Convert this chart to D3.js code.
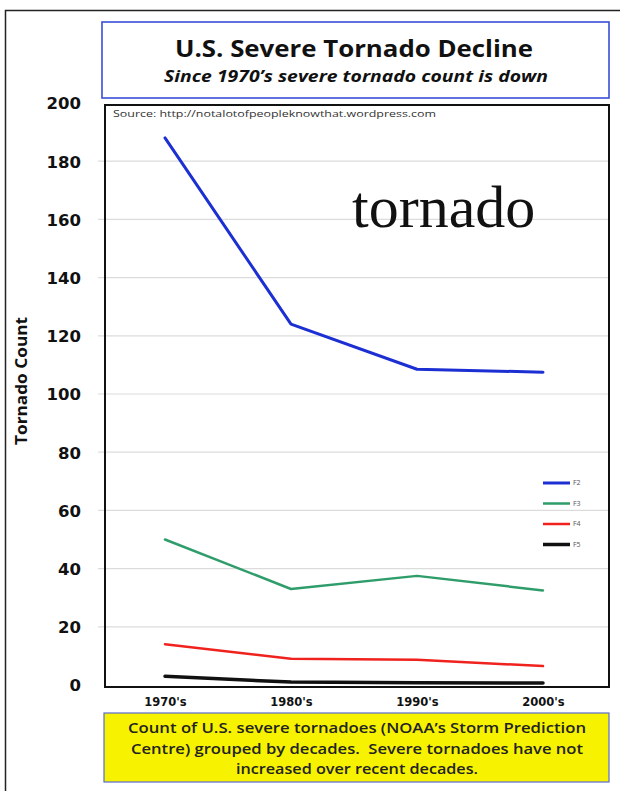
<!DOCTYPE html>
<html>
<head>
<meta charset="utf-8">
<script src="https://cdnjs.cloudflare.com/ajax/libs/d3/7.8.5/d3.min.js"></script>
<style>
  html, body { margin: 0; padding: 0; background: #fff; }
  svg { display: block; }
</style>
</head>
<body>
<svg id="chart" width="620" height="791"></svg>
<script>
// Decades on the x axis
const decades = ["1970's", "1980's", "1990's", "2000's"];
// Severe tornado counts per decade, by Fujita class
const f2 = [188, 124, 108.5, 107.5];
const f3 = [50, 33, 37.5, 32.5];
const f4 = [14, 9, 8.7, 6.5];
const f5 = [3, 1, 0.8, 0.7];
const seriesNames = ["F2", "F3", "F4", "F5"];
const yTicks = [0, 20, 40, 60, 80, 100, 120, 140, 160, 180, 200];

const seriesColors = ["#1c2fd2", "#2f9d6b", "#f0221e", "#111111"];
const seriesWidths = [3, 2.5, 2.5, 3.5];
const seriesData = [f2, f3, f4, f5];

const sans = "'Open Sans', 'DejaVu Sans', sans-serif";
const wide = "'DejaVu Sans', Verdana, sans-serif";
const svg = d3.select("#chart");

// outer frame (left and top edges)
svg.append("path")
  .attr("d", "M5.5,791 V10.5 H620")
  .attr("fill", "none").attr("stroke", "#222").attr("stroke-width", 1.5);

// title box
svg.append("rect")
  .attr("x", 102).attr("y", 22).attr("width", 507).attr("height", 76)
  .attr("fill", "#fff").attr("stroke", "#3a4fd6").attr("stroke-width", 1.6);
svg.append("text")
  .attr("x", 354).attr("y", 57).attr("text-anchor", "middle")
  .attr("textLength", 358).attr("lengthAdjust", "spacingAndGlyphs")
  .style("font-family", sans).style("font-size", "23px").style("font-weight", "bold")
  .attr("fill", "#111").text("U.S. Severe Tornado Decline");
svg.append("text")
  .attr("x", 356).attr("y", 82).attr("text-anchor", "middle")
  .attr("textLength", 384).attr("lengthAdjust", "spacingAndGlyphs")
  .style("font-family", sans).style("font-size", "16.5px").style("font-weight", "bold")
  .style("font-style", "italic").attr("fill", "#111")
  .text("Since 1970\u2019s severe tornado count is down");

// plot geometry
const plot = { left: 105, right: 609, top: 105, bottom: 687 };
const y = d3.scaleLinear().domain([0, 200]).range([685, 103]);
const x = d3.scalePoint().domain(decades).range([165, 543]);

// gridlines with short ticks outside the plot box
svg.append("g").selectAll("line").data(yTicks.filter(t => t > 0 && t < 200)).join("line")
  .attr("x1", plot.left - 7).attr("x2", plot.right)
  .attr("y1", d => y(d)).attr("y2", d => y(d))
  .attr("stroke", "#dcdcdc").attr("stroke-width", 1.2);

// y axis labels
const yAxis = d3.axisLeft(y).tickValues(yTicks).tickSize(0).tickPadding(0);
const yg = svg.append("g").attr("transform", "translate(81,0)").call(yAxis);
yg.select(".domain").remove();
yg.selectAll("text")
  .style("font-family", wide).style("font-size", "16.5px").style("font-weight", "bold")
  .attr("fill", "#111").attr("dy", "0.36em");

svg.append("text")
  .attr("transform", "translate(27,381) rotate(-90)")
  .attr("text-anchor", "middle")
  .attr("textLength", 128).attr("lengthAdjust", "spacingAndGlyphs")
  .style("font-family", sans).style("font-size", "16px").style("font-weight", "bold")
  .attr("fill", "#111").text("Tornado Count");

// x axis labels
const xAxis = d3.axisBottom(x).tickSize(0).tickPadding(0);
const xg = svg.append("g").attr("transform", "translate(0,698)").call(xAxis);
xg.select(".domain").remove();
xg.selectAll("text")
  .style("font-family", wide).style("font-size", "11.5px").style("font-weight", "bold")
  .attr("fill", "#111").attr("dy", "0.71em");

// plot box border
svg.append("rect")
  .attr("x", plot.left).attr("y", plot.top)
  .attr("width", plot.right - plot.left).attr("height", plot.bottom - plot.top)
  .attr("fill", "none").attr("stroke", "#111").attr("stroke-width", 2);

// source note
svg.append("text")
  .attr("x", 113).attr("y", 117)
  .attr("textLength", 323).attr("lengthAdjust", "spacingAndGlyphs")
  .style("font-family", sans).style("font-size", "9.5px")
  .attr("fill", "#333").text("Source: http://notalotofpeopleknowthat.wordpress.com");

// large caption inside the plot
svg.append("text")
  .attr("x", 352).attr("y", 227)
  .style("font-family", "'Liberation Serif', 'DejaVu Serif', serif").style("font-size", "60px")
  .attr("fill", "#111").text("tornado");

// series lines
const line = d3.line().x((d, i) => x(decades[i])).y(d => y(d));
svg.append("g").selectAll("path").data(seriesData).join("path")
  .attr("d", d => line(d))
  .attr("fill", "none")
  .attr("stroke", (d, i) => seriesColors[i])
  .attr("stroke-width", (d, i) => seriesWidths[i])
  .attr("stroke-linejoin", "round").attr("stroke-linecap", "round");

// legend
const lg = svg.append("g");
seriesNames.forEach((name, i) => {
  const ly = 483 + i * 20.5;
  lg.append("line")
    .attr("x1", 543).attr("x2", 570).attr("y1", ly).attr("y2", ly)
    .attr("stroke", seriesColors[i]).attr("stroke-width", seriesWidths[i]);
  lg.append("text")
    .attr("x", 573).attr("y", ly).attr("dy", "0.35em")
    .style("font-family", sans).style("font-size", "7px")
    .attr("fill", "#555").text(name);
});

// caption box
svg.append("rect")
  .attr("x", 104).attr("y", 713).attr("width", 505).attr("height", 69)
  .attr("fill", "#f7f200").attr("stroke", "#5a6ad0").attr("stroke-width", 1.2);
const captionLines = [
  "Count of U.S. severe tornadoes (NOAA\u2019s Storm Prediction",
  "Centre) grouped by decades.  Severe tornadoes have not",
  "increased over recent decades."
];
const captionWidths = [458, 452, 242];
svg.append("g").selectAll("text").data(captionLines).join("text")
  .attr("x", 357).attr("y", (d, i) => 733 + i * 20.5)
  .attr("text-anchor", "middle")
  .attr("textLength", (d, i) => captionWidths[i]).attr("lengthAdjust", "spacingAndGlyphs")
  .style("font-family", sans).style("font-size", "15px").style("font-weight", "600")
  .attr("fill", "#222").attr("xml:space", "preserve")
  .text(d => d);
</script>
</body>
</html>
